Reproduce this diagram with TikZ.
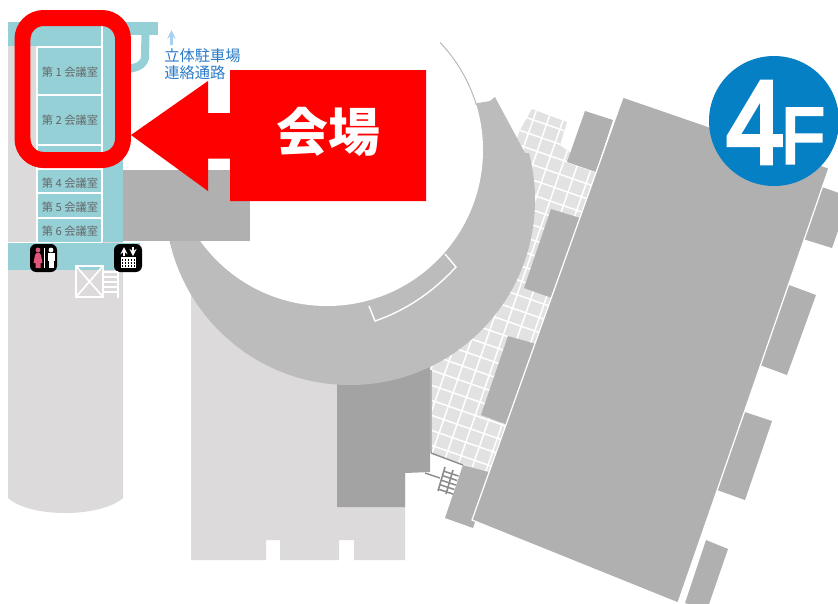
\documentclass[tikz,border=0pt]{standalone}
\usepackage{fontspec}
\setmainfont{Liberation Sans}
\newfontfamily\cjk{Noto Sans CJK JP}
\newfontfamily\badge[FakeBold=4]{Liberation Sans}
\usetikzlibrary{calc}
\usetikzlibrary{arrows}
\definecolor{teal1}{HTML}{95D0D6}
\definecolor{light1}{HTML}{DCDADB}
\definecolor{tile1}{HTML}{E2E2E2}
\definecolor{hall1}{HTML}{B0B0B0}
\definecolor{ring1}{HTML}{BCBCBC}
\definecolor{dark1}{HTML}{A3A3A3}
\definecolor{blue1}{HTML}{0580C5}
\definecolor{link1}{HTML}{2A7BC8}
\definecolor{pale1}{HTML}{A9D0EE}
\definecolor{pink1}{HTML}{E0567A}
\tikzset{wing/.style={fill=hall1}}
\tikzset{roomlabel/.style={text=black!60,font=\cjk\fontsize{6.4}{7}\selectfont,inner sep=0pt}}
\tikzset{linklabel/.style={text=link1,font=\cjk\fontsize{8.7}{10}\selectfont,inner sep=0pt,anchor=west}}
\tikzset{iconbox/.style={fill=black,rounded corners=3.5pt}}

\begin{document}
\begin{tikzpicture}[x=0.02cm,y=-0.02cm]
\useasboundingbox (0,0) rectangle (838,603);

% left wing of the building
\fill[light1] (8,46) -- (123,46) -- (123,498) .. controls (100,518) and (30,518) .. (8,498) -- cycle;
\fill[teal1] (8,22) rectangle (123,46);
\fill[teal1] (123,22) rectangle (158,35);
\fill[teal1] (37,46) rectangle (123,242);
\fill[teal1] (8,243) rectangle (140,270);
\draw[teal1,line width=4.6pt] (145.5,33) -- (145,58) .. controls (143,66) and (135,69) .. (122,69);
\draw[white,line width=0.8pt] (37,47) -- (37,242) (102,26) -- (102,242) (8,242.5) -- (102,242.5);
\foreach \y in {47,95,145,169,193,218}
  \draw[white,line width=0.8pt] (37,\y) -- (102,\y);

% lower block
\fill[light1] (191,260) -- (405,260) -- (405,560) -- (354,560) -- (354,540) -- (339,540) -- (339,560) -- (280,560) -- (280,540) -- (266,540) -- (266,560) -- (191,560) -- cycle;
\fill[dark1] (337,350) -- (430,350) -- (430,472) -- (405,473) -- (405,507) -- (337,507) -- cycle;

% tiled deck
\begin{scope}
\clip (532,109) -- (567,122) -- (560,145) -- (596,172) -- (489,473) -- (431,453) -- (431,370) -- (520,130) -- cycle;
\fill[tile1] (420,100) rectangle (600,480);
\begin{scope}[shift={(417.5,365.3)},rotate=-19.2]
\foreach \k in {-25,...,25} {
  \draw[white,line width=0.85pt] (-500,\k*14.2) -- (500,\k*14.2);
  \draw[white,line width=0.85pt] (\k*14.2,-500) -- (\k*14.2,500);
}
\end{scope}
\end{scope}
\draw[black!30,line width=0.7pt] (431,370) -- (431,453);
\draw[black!45,line width=0.8pt] (431,453) -- (463,465);

% ring and courtyard
\begin{scope}
\clip (100,170) -- (250,170) -- (478,103) -- (490,101) -- (495,97) -- (525,153) -- (529,153) -- (600,153) -- (600,420) -- (100,420) -- cycle;
\fill[ring1] (350,200) circle (185);
\end{scope}
\fill[white] (327,150) circle (156);
\begin{scope}
\clip (440,30) rectangle (490,104);
\draw[black!30,line width=0.5pt] (327,150) circle (156);
\end{scope}
\draw[white,line width=0.8pt] (445,254) -- (456,267) .. controls (431,294) and (404,311) .. (375,321) -- (369,306);
\fill[hall1] (123,170) rectangle (250,241);

% stairs by the deck
\draw[black!45,line width=0.8pt] (425,473) -- (440,478);
\draw[black!45,line width=0.9pt] (445,467) -- (438,491) (453,470) -- (446,494);
\foreach \t in {0,0.25,0.5,0.75,1}
  \draw[black!45,line width=0.9pt] ($(443.5,471)!\t!(438,489)$) -- ++(15,5);

% main hall
\fill[wing] (585,111) -- (613,120) -- (596,172) -- (567,162) -- cycle;
\fill[wing] (551,209) -- (580,218) -- (552,298) -- (524,288) -- cycle;
\fill[wing] (508,336) -- (536,344) -- (508,425) -- (481,415) -- cycle;
\fill[wing] (463,465) -- (492,473) -- (473,528) -- (445,518) -- cycle;
\fill[wing] (822,187) -- (850,197) -- (832,248) -- (803,239) -- cycle;
\fill[wing] (789,285) -- (816,295) -- (787,375) -- (760,365) -- cycle;
\fill[wing] (745,412) -- (772,421) -- (745,500) -- (717,490) -- cycle;
\fill[wing] (706,540) -- (728,549) -- (707,610) -- (685,603) -- cycle;
\filldraw[hall1,draw=white,line width=0.7pt] (623,97) -- (829,168) -- (678,603) -- (472,520) -- cycle;

% floor badge
\fill[blue1] (774,121) circle (65);
\node[anchor=base west,inner sep=0pt,text=white,xscale=0.88,font=\badge\fontsize{67}{67}\selectfont] (floornum) at (726,163) {\makebox[31pt][l]{4}};
\node[anchor=base west,inner sep=0pt,text=white,xscale=0.9,font=\badge\fontsize{45}{45}\selectfont] (floorlet) at (781,163) {F};

% room names
\node[roomlabel] (room1) at (70,72) {第 1 会議室};
\node[roomlabel] (room2) at (70,120) {第 2 会議室};
\node[roomlabel] (room3) at (70,158) {第 3 会議室};
\node[roomlabel] (room4) at (70,183) {第 4 会議室};
\node[roomlabel] (room5) at (70,207) {第 5 会議室};
\node[roomlabel] (room6) at (70,231) {第 6 会議室};

% parking link
\coordinate (linkfoot) at (171.5,45);
\coordinate (linkhead) at (171.5,30);
\draw[-stealth,pale1,line width=1.2pt] (linkfoot) -- (linkhead);
\node[linklabel] (link1) at (164,56) {立体駐車場};
\node[linklabel] (link2) at (164,73) {連絡通路};

% toilet icon
\fill[iconbox] (30,244) rectangle (57,272);
\fill[pink1] (38,250) circle (2.4);
\fill[pink1] (37,252.5) -- (39,252.5) -- (41,255) -- (42.5,263) -- (40.5,263) -- (40.5,268) -- (35.5,268) -- (35.5,263) -- (33.5,263) -- (35,255) -- cycle;
\fill[white] (43.6,248) rectangle (44.8,268);
\fill[white] (51,250) circle (2.4);
\fill[white] (47.5,253) rectangle (54.5,261);
\fill[white] (48.5,261) rectangle (53.5,268);

% lift icon
\fill[iconbox] (114,244) rectangle (142,272);
\fill[white] (121,257) rectangle (136,268);
\foreach \y in {260,263,266}
  \draw[black,densely dotted,line width=0.7pt] (122,\y) -- (135,\y);
\coordinate (liftup) at (124,247);
\coordinate (liftupb) at (124,256);
\coordinate (liftdn) at (133,256);
\coordinate (liftdnb) at (133,247);
\draw[-stealth,white,line width=0.8pt] (liftupb) -- (liftup);
\draw[-stealth,white,line width=0.8pt] (liftdnb) -- (liftdn);

% lift shaft and stairs
\draw[white,line width=1pt] (76,266) rectangle (103,297) (76,266) -- (103,297) (103,266) -- (76,297);
\draw[white,line width=0.7pt] (118,272) -- (118,298);
\foreach \y in {272,277,282,287,292}
  \draw[white,line width=0.7pt] (103,\y) -- (118,\y);

% venue marker
\draw[red,line width=9.1pt,rounded corners=12pt] (22.5,18) rectangle (123,160);
\fill[red] (131,135) -- (208,81) -- (208,113) -- (230,113) -- (230,70) -- (426,70) -- (426,201) -- (230,201) -- (230,158.5) -- (208,158.5) -- (208,191) -- cycle;
\node[text=white,inner sep=0pt,font=\cjk\bfseries\fontsize{29.5}{30}\selectfont] (venue) at (328,132) {会場};
\end{tikzpicture}
\end{document}
